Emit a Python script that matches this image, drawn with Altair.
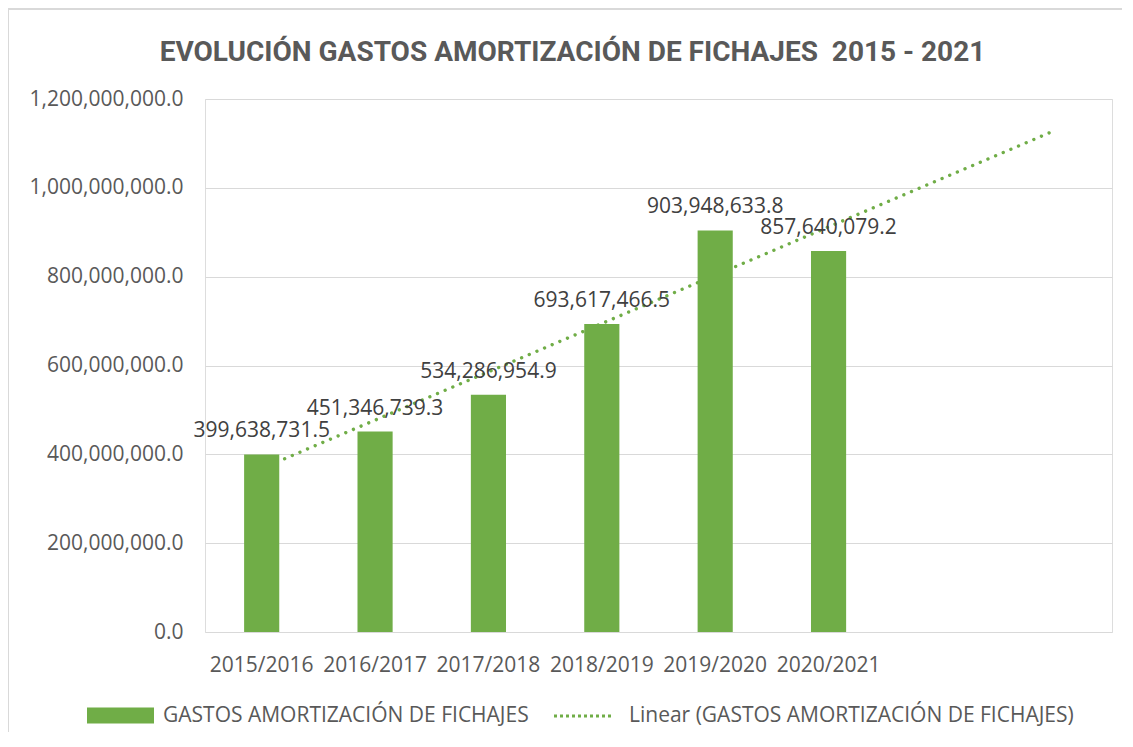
import altair as alt
import pandas as pd
import numpy as np

# ---- data ----
categories = ["2015/2016", "2016/2017", "2017/2018", "2018/2019", "2019/2020", "2020/2021"]
values = [399638731.5, 451346739.3, 534286954.9, 693617466.5, 903948633.8, 857640079.2]
forecast_slots = [" ", "  "]          # two empty periods the trendline is extended into
y_ticks = [0, 200000000, 400000000, 600000000, 800000000, 1000000000, 1200000000]
series_name = "GASTOS AMORTIZACIÓN DE FICHAJES"
trend_name = "Linear (GASTOS AMORTIZACIÓN DE FICHAJES)"
title_text = "EVOLUCIÓN GASTOS AMORTIZACIÓN DE FICHAJES\u00a0 2015 - 2021"

GREEN = "#70AD47"
GRID = "#d9d9d9"
TXT = "#595959"
FONT = "Open Sans"

# legend glyphs (unit-box SVG paths, scaled by the legend symbol size)
BAR_GLYPH = "M-1,-0.24H1V0.24H-1Z"
DOTS_GLYPH = " ".join(
    "M{:.1f},-0.05h0.1v0.1h-0.1Z".format(-1 + 0.2 * k) for k in range(10)
)

domain = categories + forecast_slots
bars_df = pd.DataFrame({"cat": categories, "value": values, "serie": series_name})

# Excel-style linear trendline (least squares on period index), forecast 2 periods forward
idx = np.arange(1, len(values) + 1)
slope, intercept = np.polyfit(idx, values, 1)
all_idx = np.arange(1, len(domain) + 1)
trend_df = pd.DataFrame({"cat": domain, "value": intercept + slope * all_idx, "serie": trend_name})

x_enc = alt.X(
    "cat:N",
    sort=domain,
    scale=alt.Scale(domain=domain, paddingInner=0.69, paddingOuter=0.345),
    axis=alt.Axis(
        title=None, labelAngle=0, domain=False, ticks=False, tickSize=0,
        labelPadding=39, labelBaseline="alphabetic", labelFont=FONT,
        labelFontSize=21, labelColor=TXT, grid=False,
    ),
)
y_enc = alt.Y(
    "value:Q",
    scale=alt.Scale(domain=[0, 1200000000], nice=False),
    axis=alt.Axis(
        title=None, values=y_ticks, format=",.1f", domain=False, ticks=False,
        tickSize=0, labelPadding=22, labelFont=FONT, labelFontSize=21,
        labelColor=TXT, grid=True, gridColor=GRID, gridWidth=1,
    ),
)

trend = alt.Chart(trend_df).mark_line(
    color=GREEN, strokeWidth=3.4, strokeCap="round", strokeDash=[0.01, 8.3]
).encode(x=x_enc, y=y_enc)

# legend entry for the trendline (no rows drawn, only its legend)
trend_key = alt.Chart(trend_df).transform_filter("false").mark_point(
    filled=True, color=GREEN, opacity=1, size=3600, strokeWidth=0
).encode(
    shape=alt.Shape(
        "serie:N",
        scale=alt.Scale(domain=[trend_name], range=[DOTS_GLYPH]),
        legend=alt.Legend(
            title=None, orient="none", legendX=349, legendY=587, padding=0,
            symbolSize=3600, symbolFillColor=GREEN, symbolStrokeWidth=0,
            symbolOpacity=1, labelOffset=15,
            labelFont=FONT, labelFontSize=21, labelColor=TXT, labelLimit=0,
        ),
    ),
)

bars = alt.Chart(bars_df).mark_bar(color=GREEN).encode(
    x=x_enc,
    y=y_enc,
    color=alt.Color(
        "serie:N",
        scale=alt.Scale(domain=[series_name], range=[GREEN]),
        legend=alt.Legend(
            title=None, orient="none", legendX=-118, legendY=583, padding=0,
            symbolType=BAR_GLYPH, symbolSize=4489,
            symbolStrokeWidth=0, symbolOpacity=1, labelOffset=9,
            labelFont=FONT, labelFontSize=21, labelColor=TXT, labelLimit=0,
        ),
    ),
)

labels = alt.Chart(bars_df).mark_text(
    baseline="alphabetic", dy=-17, font=FONT, fontSize=21, color="#404040"
).encode(
    x=alt.X("cat:N", sort=domain),
    y="value:Q",
    text=alt.Text("value:Q", format=",.1f"),
)

frame = alt.Chart(alt.Data(values=[{}]))
frame_top = frame.mark_rule(color=GRID, strokeWidth=2).encode(
    x=alt.value(-197), x2=alt.value(930), y=alt.value(-90)
)
frame_left = frame.mark_rule(color=GRID, strokeWidth=2).encode(
    x=alt.value(-197), y=alt.value(-91), y2=alt.value(660)
)

chart = alt.layer(frame_top, frame_left, trend, bars, labels, trend_key).properties(
    width=907,
    height=533,
    padding={"left": 197, "top": 91, "right": 10, "bottom": 100},
    autosize=alt.AutoSizeParams(type="none"),
    title=alt.TitleParams(
        title_text, anchor="middle", frame="group", dx=-86, offset=-82,
        baseline="alphabetic", font="Roboto", fontSize=28,
        fontWeight="bold", color=TXT,
    ),
).configure_view(stroke=None).configure(background="white")

chart.save("out.html", embed_options={"renderer": "svg", "actions": False})
